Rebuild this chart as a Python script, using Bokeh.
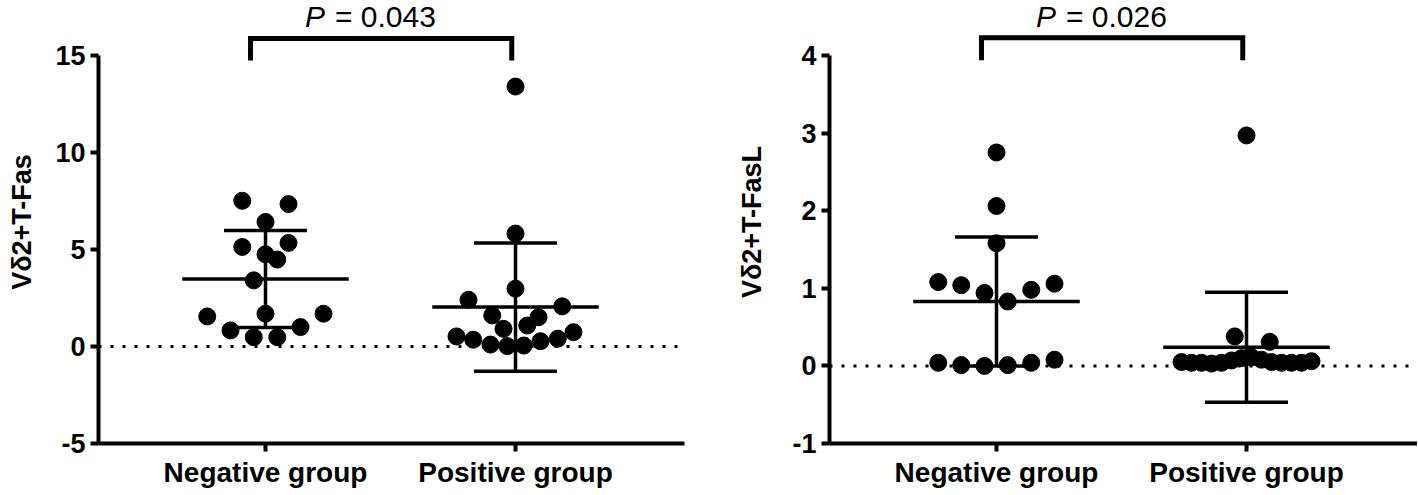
from bokeh.plotting import figure
from bokeh.layouts import row
from bokeh.models import ColumnDataSource, FixedTicker, Span, Range1d
from bokeh.core.properties import value
from bokeh.embed import file_html
from bokeh.resources import INLINE

# ---------------- data ----------------
groups = ["Negative group", "Positive group"]
group_pos = [1, 2]

fas_neg = [7.51, 7.34, 6.42, 5.34, 5.13, 4.75, 4.48, 3.41, 1.69, 1.69, 1.55, 1.00, 0.83, 0.48, 0.48]
fas_pos = [13.4, 5.82, 2.98, 2.41, 2.07, 1.60, 1.51, 1.08, 0.91, 0.74, 0.52, 0.40, 0.35, 0.27, 0.10, 0.05, 0.02]
fas_mean = [3.48, 2.03]
fas_sd = [2.50, 3.30]
fas_p = "0.043"
fas_yticks = [-5, 0, 5, 10, 15]
fas_ytick_labels = ["-5", "0", "5", "10", "15"]

fasl_neg = [2.75, 2.06, 1.58, 1.08, 1.04, 0.94, 0.83, 0.98, 1.06, 0.04, 0.01, 0.00, 0.01, 0.04, 0.08]
fasl_pos = [2.97, 0.38, 0.31, 0.05, 0.04, 0.04, 0.03, 0.04, 0.07, 0.10, 0.11, 0.08, 0.05, 0.04, 0.04, 0.04, 0.06]
fasl_mean = [0.83, 0.24]
fasl_sd = [0.83, 0.71]
fasl_p = "0.026"
fasl_yticks = [-1, 0, 1, 2, 3, 4]
fasl_ytick_labels = ["-1", "0", "1", "2", "3", "4"]

# ---------------- layout: horizontal spread of dots inside each column ----------------
fas_neg_spread = [-0.093, 0.092, 0, 0.092, -0.093, 0, 0.047, -0.047, 0, 0.232, -0.233, 0.14, -0.14, -0.047, 0.047]
fas_pos_spread = [0, 0, 0, -0.188, 0.187, -0.093, 0.092, 0.047, -0.048, 0.232, -0.236, 0.169, -0.169, 0.1, -0.1, 0.033, -0.033]
fasl_neg_spread = [0, 0, 0, -0.233, -0.141, -0.048, 0.045, 0.139, 0.232, -0.233, -0.141, -0.048, 0.045, 0.139, 0.232]
fasl_pos_spread = [0, -0.047, 0.093, -0.26, -0.22, -0.18, -0.14, -0.10, -0.06, -0.02, 0.02, 0.06, 0.10, 0.14, 0.18, 0.22, 0.26]

FONT = "Liberation Sans"
PX_PER_X = 250.0
FRAME_H = 443


def panel(neg, pos, neg_sp, pos_sp, mean, sd, p_txt, ylab, yticks, ytick_labels,
          px_per_y, bracket_lo, bracket_hi, text_y, border_left, frame_w, border_right,
          label_standoff):
    y0 = yticks[0]
    y1 = y0 + FRAME_H / px_per_y
    x0 = 0.332
    x1 = x0 + frame_w / PX_PER_X
    p = figure(frame_width=frame_w, frame_height=FRAME_H,
               x_range=Range1d(x0, x1), y_range=Range1d(y0, y1),
               output_backend="svg", toolbar_location=None,
               min_border_left=border_left, min_border_right=border_right,
               min_border_top=0, min_border_bottom=44)
    p.outline_line_color = None
    p.xgrid.visible = False
    p.ygrid.visible = False
    p.background_fill_color = "white"
    p.border_fill_color = "white"

    # y axis
    ya = p.yaxis[0]
    ya.bounds = (yticks[0], yticks[-1])
    ya.ticker = FixedTicker(ticks=yticks)
    ya.major_label_overrides = {t: l for t, l in zip(yticks, ytick_labels)}
    ya.axis_label = ylab
    ya.axis_label_standoff = label_standoff
    ya.axis_label_text_font = FONT
    ya.axis_label_text_font_style = "bold"
    ya.axis_label_text_font_size = "27px"
    ya.axis_label_text_color = "black"

    # x axis
    xa = p.xaxis[0]
    xa.ticker = FixedTicker(ticks=group_pos)
    xa.major_label_overrides = {g: n for g, n in zip(group_pos, groups)}

    for ax in (ya, xa):
        ax.axis_line_width = 4
        ax.axis_line_color = "black"
        ax.major_tick_line_width = 4
        ax.major_tick_line_color = "black"
        ax.major_tick_out = 8
        ax.major_tick_in = 0
        ax.minor_tick_out = 0
        ax.minor_tick_in = 0
        ax.major_label_text_font = FONT
        ax.major_label_text_font_style = "bold"
        ax.major_label_text_color = "black"
    ya.major_label_text_font_size = "27px"
    xa.major_label_text_font_size = "28px"
    ya.major_label_standoff = 5
    xa.major_label_standoff = 5

    # dotted zero line
    p.add_layout(Span(location=0, dimension="width", line_color="black",
                      line_width=3, line_dash="3 9"))

    # mean and SD bars
    g0 = group_pos
    seg = ColumnDataSource(dict(
        x0=[g - 0.333 for g in g0] + [g - 0.166 for g in g0] + [g - 0.166 for g in g0] + list(g0),
        x1=[g + 0.333 for g in g0] + [g + 0.166 for g in g0] + [g + 0.166 for g in g0] + list(g0),
        y0=list(mean) + [m + s for m, s in zip(mean, sd)] + [m - s for m, s in zip(mean, sd)]
           + [m - s for m, s in zip(mean, sd)],
        y1=list(mean) + [m + s for m, s in zip(mean, sd)] + [m - s for m, s in zip(mean, sd)]
           + [m + s for m, s in zip(mean, sd)],
    ))
    p.segment("x0", "y0", "x1", "y1", source=seg, line_color="black", line_width=3.5)

    # points
    xs = [g0[0] + s for s in neg_sp] + [g0[1] + s for s in pos_sp]
    ys = list(neg) + list(pos)
    p.scatter(xs, ys, size=17, fill_color="black", line_color="black")

    # significance bracket
    bl, br = g0[0] - 0.06, g0[1] - 0.015
    p.line([bl, bl, br, br], [bracket_lo, bracket_hi, bracket_hi, bracket_lo],
           line_color="black", line_width=5, line_join="miter")
    p.text(x=[1.158], y=[text_y], text=["P"], text_font=value(FONT),
           text_font_style="italic", text_font_size="30px", text_color="black",
           text_baseline="alphabetic", text_align="left")
    p.text(x=[1.278], y=[text_y], text=["= " + p_txt], text_font=value(FONT),
           text_font_size="30px", text_color="black",
           text_baseline="alphabetic", text_align="left")
    return p


p1 = panel(fas_neg, fas_pos, fas_neg_spread, fas_pos_spread, fas_mean, fas_sd, fas_p,
           "Vδ2+T-Fas", fas_yticks, fas_ytick_labels, 19.4,
           14.74, 15.88, 17.01, 98, 586, 24, 15)
p2 = panel(fasl_neg, fasl_pos, fasl_neg_spread, fasl_pos_spread, fasl_mean, fasl_sd, fasl_p,
           "Vδ2+T-FasL", fasl_yticks, fasl_ytick_labels, 77.6,
           3.94, 4.23, 4.50, 121, 588, 0, 22)

layout = row(p1, p2)
open("out.html", "w").write(file_html(layout, INLINE))
